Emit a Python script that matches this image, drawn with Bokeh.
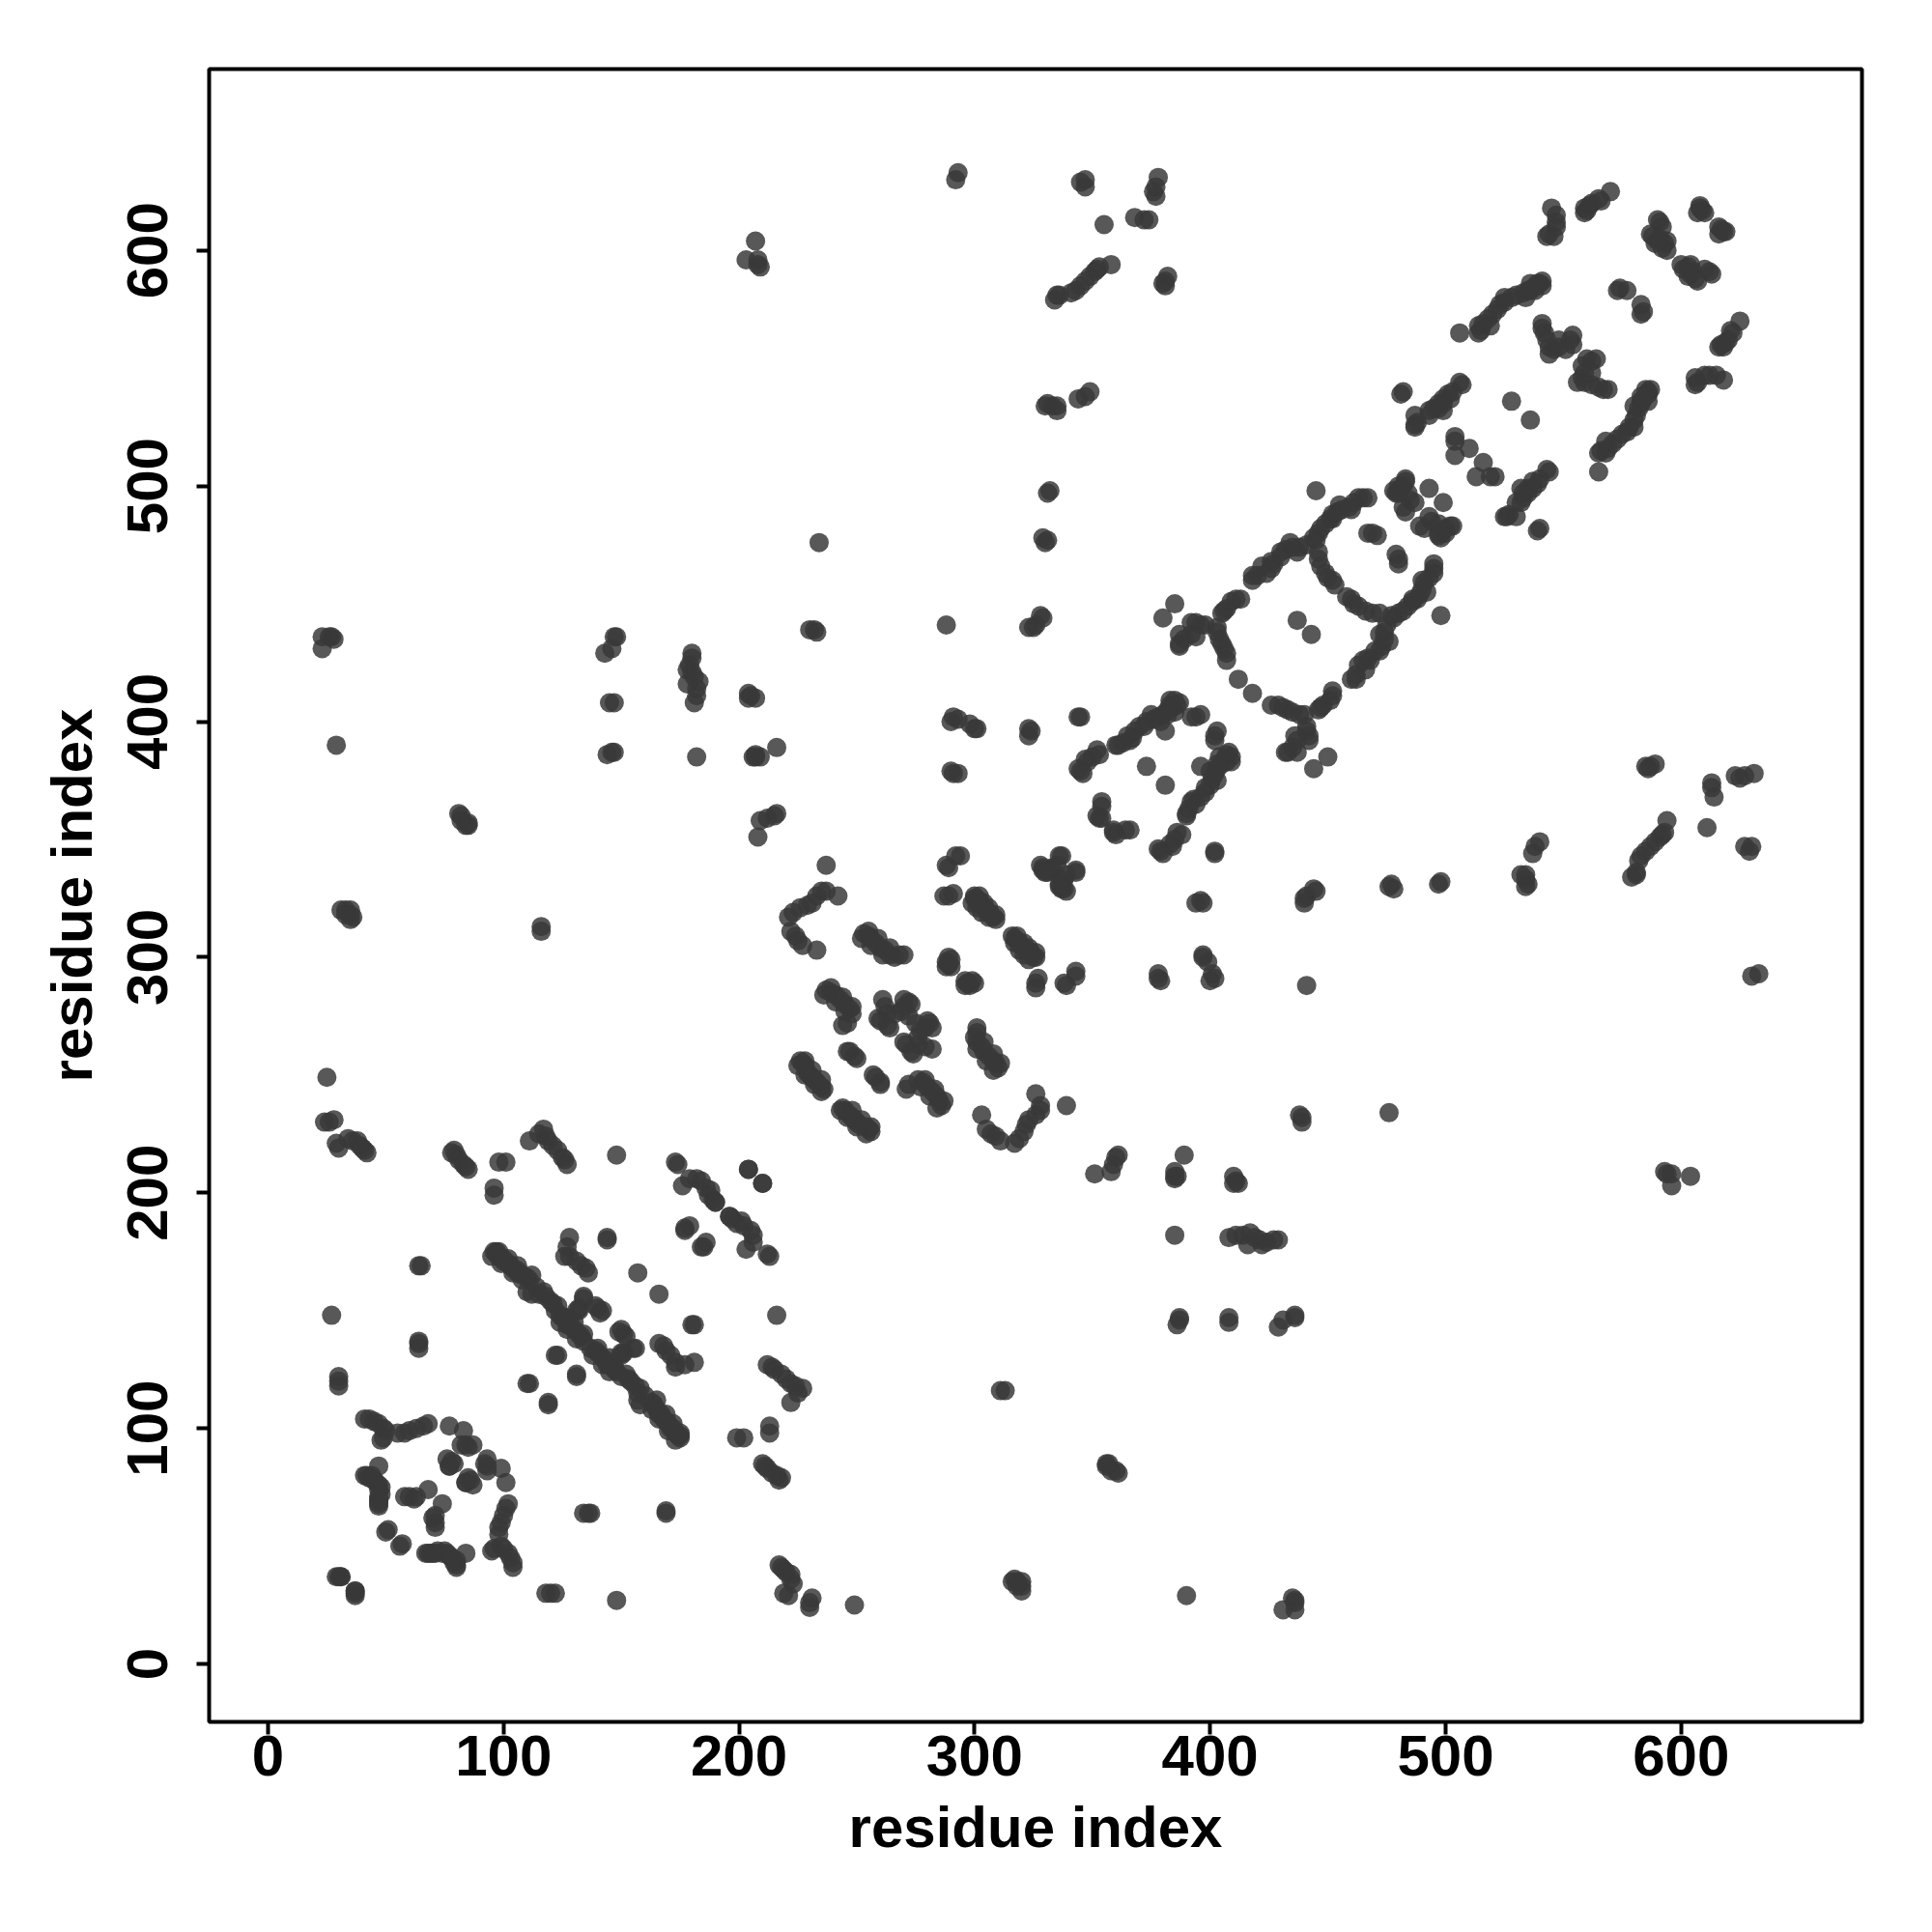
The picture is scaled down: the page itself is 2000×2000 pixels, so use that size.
from bokeh.plotting import figure
from bokeh.models import Range1d, FixedTicker
from bokeh.embed import file_html
from bokeh.resources import INLINE

x_ticks = [0, 100, 200, 300, 400, 500, 600]
y_ticks = [0, 100, 200, 300, 400, 500, 600]
x_title = "residue index"
y_title = "residue index"

# The map is a symmetric contact map: each pair below is drawn as (i, j) and (j, i).
contacts_ring_a = [(41,104),(43,104),(45,103),(47,102),(49,100),(49,96),(48,95),(50,99),(55,98),(58,98),(60,99),(63,100),(66,101),(68,102),(77,101),(83,99),(84,93),(82,93),(87,93),(85,92),
    (47,84),(41,80),(43,79),(44,80),(45,78),(47,76),(48,75),(48,72),(47,69),(47,68),(51,57),(50,56),(42,80),(46,77),(47,74),(47,71),(47,70),(47,67),
    (58,71),(60,71),(63,71),(62,70),(68,74),(76,87),(77,84),(78,86),(77,84),(79,85),(30,37),(29,37),(31,37),(37,31)]
contacts_n_long = [(30,122),(30,120),(30,118),(64,169),(65,169),(64,137),(64,136),(64,134),(27,148),(26,230),(24,230),(28,231),(29,221),(30,219),(34,223),(36,222),(38,222),(39,220),(41,218),(40,219),(42,217),
    (79,218),(78,217),(80,216),(81,214),(83,212),(84,211),(85,210),(98,213),(101,213),(96,202),(96,199),(111,222),(117,227),(115,225),(118,224),(119,222),(121,220),(123,218),(125,215),(126,214),(127,212),
    (148,216),(173,213),(174,212),(176,203),(179,206),(182,206),(184,205),(186,202),(188,201),(189,197),(187,199),(190,196),(204,210),(210,204),(177,185),(179,186),(177,184),(190,196)]
contacts_strand_c = [(96,175),(97,174),(98,173),(100,172),(102,170),(103,169),(104,168),(106,166),(108,165),(110,164),(111,163),(110,158),(112,157),(115,157),(118,156),(120,154),(122,150),(124,148),(125,147),(127,144),(129,143),(130,142),(132,140),(133,139),(134,137),(97,175),(100,171),(106,167),
    (95,173),(98,175),(99,170),(102,172),(104,166),(106,169),(108,163),(112,165),(114,160),(117,158),(121,153),(123,152),(124,145),(127,147),(127,142),(130,145),(131,138),(134,140),
    (128,181),(127,177),(126,173),(128,173),(131,171),(133,169),(135,168),(136,166),(144,181),(144,180),(157,166),(134,156),(134,155),(132,151),(132,150),(131,150),(140,151),(142,150),(139,152),(141,149),
    (122,131),(123,131),(111,119),(110,119)]
contacts_region_d = [(226,256),(228,254),(229,251),(230,250),(231,249),(233,247),(235,245),(236,244),(227,255),(232,248),(225,254),(228,256),(228,250),(231,252),(232,246),(235,248),(235,243),
    (237,286),(239,285),(241,284),(243,282),(245,280),(247,278),(248,276),(244,271),(246,272),(236,284),(239,287),(241,281),(244,283),(245,277),(248,279),
    (261,282),(262,279),(259,274),(260,273),(263,271),(264,270),(263,276),(266,276),(270,282),(272,281),(273,280),(272,275),(270,279),(269,277),
    (247,260),(249,258),(250,257),(246,260),(253,310),(255,309),(256,308),(258,306),(260,304),(262,303),(264,301),(266,300),(270,301),(268,301),(252,308),(255,311),(256,305),(259,308),(261,301),(264,304),
    (222,311),(224,309),(225,307),(227,305),(233,303),(221,317),(223,319),(226,321),(229,322),(231,323),(233,326),(235,328),(237,328),(242,326),(237,339),
    (287,326),(289,326),(291,327),(288,339),(289,338),(292,343),(294,343),(288,298),(289,297),(289,300),(290,296),(288,296),(290,299),(289,297),
    (300,325),(301,324),(303,322),(305,320),(306,319),(308,317),(309,316),(300,326),(302,324),(307,318),(299,323),(302,326),(301,321),(304,323),(303,319),(306,321),(306,317),(309,318),
    (329,338),(330,337),(332,337),(333,338),(336,343),(337,343),(335,339),(330,336),(328,339),(329,337),(331,336)]
contacts_ring_e = [(345,402),(352,388),(353,386),(350,385),(347,384),(348,383),(344,380),(345,379),(346,378),(354,366),(354,364),(353,359),(352,360),(354,359),
    (360,390),(361,390),(363,391),(366,392),(368,396),(370,398),(373,400),(376,401),(378,402),(380,403),(382,405),(383,407),(385,409),(386,407),(384,406),(381,396),(385,404),(394,402),(396,403),(392,402),(373,381),
    (365,394),(367,393),(372,398),(375,403),(379,400),(383,409),(387,408),(382,403)]
contacts_ring_f = [(385,450),(380,444),(394,442),(392,442),(396,441),(398,441),(387,437),(387,433),(392,437),(394,436),(389,435),(387,432),
    (405,446),(406,447),(407,448),(409,451),(411,452),(413,452),(418,462),(420,462),(424,463),(426,468),(427,467),(430,472),(432,473),(435,474),(438,474),(441,475),(444,478),(446,480),(447,482),(449,484),(451,486),(452,488),(454,489),(456,490),(459,491),(461,493),(463,495),(465,495),(467,495),(445,498),
    (418,460),(422,466),(426,465),(430,470),(434,476),(437,472),(445,477),(452,486),(455,492),(460,490),
    (403,440),(404,435),(405,433),(407,429),(407,426),(412,418),(403,438),(406,431),(437,443),
    (446,472),(446,469),(447,466),(449,463),(452,460),(453,458),(450,461),(467,480),(469,480),(471,479),
    (483,502),(480,500),(478,498),(482,491),(485,494),(487,493),(493,499),(483,489),(480,497),(483,503),(481,499),(479,497),(482,500),(484,497),(504,521),(504,519),(504,513),(510,516)]
contacts_region_g = [(482,540),(481,539),(507,543),(506,544),(503,540),(501,539),(499,535),(497,535),(499,532),(493,532),(495,533),(487,530),(487,525),(488,527),(487,526),(493,530),(528,536),(499,537),(502,537),(497,533),
    (506,565),(514,568),(514,565),(516,569),(518,571),(520,573),(522,575),(525,580),(528,580),(530,581),(533,582),(535,583),(537,584),(539,586),(541,587),(540,586),(536,583),(525,578),(523,577),(515,566),(519,568),(534,580),(538,583),(541,585),(536,586),
    (541,569),(541,567),(542,565),(543,562),(544,559),(544,556),(546,558),(548,559),(551,558),(554,564),(554,560),(553,562),(548,562),(573,583),(577,583),(574,584),
    (587,607),(590,613),(591,612),(592,610),(588,606),(590,604),(594,604),(594,600),(592,601),(593,603),(589,603),(591,605),(608,619),(609,617),(608,618),(610,616),(607,616),
    (570,625),(566,621),(565,622),(561,619),(559,618),(562,620),(559,616),(560,617),(546,606),(543,606),(544,607),(547,610),(547,615),(545,618),(547,612)]
contacts_far = [(23,436),(27,436),(28,435),(26,436),(23,431),(29,390),(81,361),(82,360),(84,356),(85,356),(82,358),(85,357),(31,320),(33,320),(35,318),(36,317),(35,320),(33,318),(35,316),(25,249),
    (143,429),(146,431),(147,436),(148,436),(145,408),(147,408),(146,387),(147,387),(144,386),(180,429),(180,427),(179,424),(180,421),(178,422),(181,419),(183,417),(178,416),(182,414),(182,411),(181,408),(182,385),
    (204,412),(205,411),(207,410),(204,410),(206,385),(209,385),(216,389),(209,358),(212,359),(215,360),(216,361),(208,351),(234,476),(232,439),(230,439),(233,438),(288,441),
    (291,402),(290,400),(293,401),(298,399),(300,397),(301,397),(290,379),(293,378),(291,378),(323,440),(325,440),(326,441),(328,445),(329,444),(323,397),(323,394),(324,396),(344,402),
    (329,478),(331,477),(330,476),(331,497),(332,498),(330,534),(331,535),(333,534),(335,534),(335,532),(344,537),(347,538),(349,540),
    (334,579),(335,581),(336,581),(341,582),(343,583),(345,585),(347,587),(349,589),(351,591),(352,592),(353,593),(358,594),(355,611),(368,614),(372,613),(374,613),(345,629),(347,627),(347,630),(377,623),(376,625),(377,627),(378,631),
    (381,585),(380,586),(382,589),(381,587),(292,630),(293,633),(203,596),(208,594),(209,593),(208,596),(207,604),(116,313),(116,311),(207,385),(207,386)]

pairs = (contacts_ring_a + contacts_n_long + contacts_strand_c + contacts_region_d
         + contacts_ring_e + contacts_ring_f + contacts_region_g + contacts_far)
xs = [a for a, b in pairs] + [b for a, b in pairs]
ys = [b for a, b in pairs] + [a for a, b in pairs]

FONT = "Liberation Sans"
p = figure(width=1984, height=1984, output_backend="svg", toolbar_location=None,
           x_range=Range1d(-25, 676.8), y_range=Range1d(-24.6, 677),
           min_border_left=216, min_border_right=57, min_border_top=71, min_border_bottom=202,
           background_fill_color="white", border_fill_color="white")
p.grid.visible = False
p.outline_line_color = "black"
p.outline_line_width = 4
p.scatter(xs, ys, size=20, fill_color="#383838", fill_alpha=0.84, line_color=None)

for ax, ticks, title in ((p.xaxis[0], x_ticks, x_title), (p.yaxis[0], y_ticks, y_title)):
    ax.ticker = FixedTicker(ticks=ticks)
    ax.axis_line_color = None
    ax.major_tick_line_color = "black"
    ax.major_tick_line_width = 4
    ax.major_tick_in = 0
    ax.major_tick_out = 13
    ax.minor_tick_line_color = None
    ax.major_label_text_font = FONT
    ax.major_label_text_font_style = "bold"
    ax.major_label_text_font_size = "60px"
    ax.major_label_text_color = "black"
    ax.axis_label = title
    ax.axis_label_text_font = FONT
    ax.axis_label_text_font_style = "bold"
    ax.axis_label_text_font_size = "60px"
    ax.axis_label_text_color = "black"
p.xaxis[0].major_label_standoff = 1
p.xaxis[0].axis_label_standoff = 17
p.yaxis[0].major_label_standoff = 30
p.yaxis[0].axis_label_standoff = 22
p.yaxis[0].major_label_orientation = "vertical"

open("out.html", "w").write(file_html(p, INLINE))
